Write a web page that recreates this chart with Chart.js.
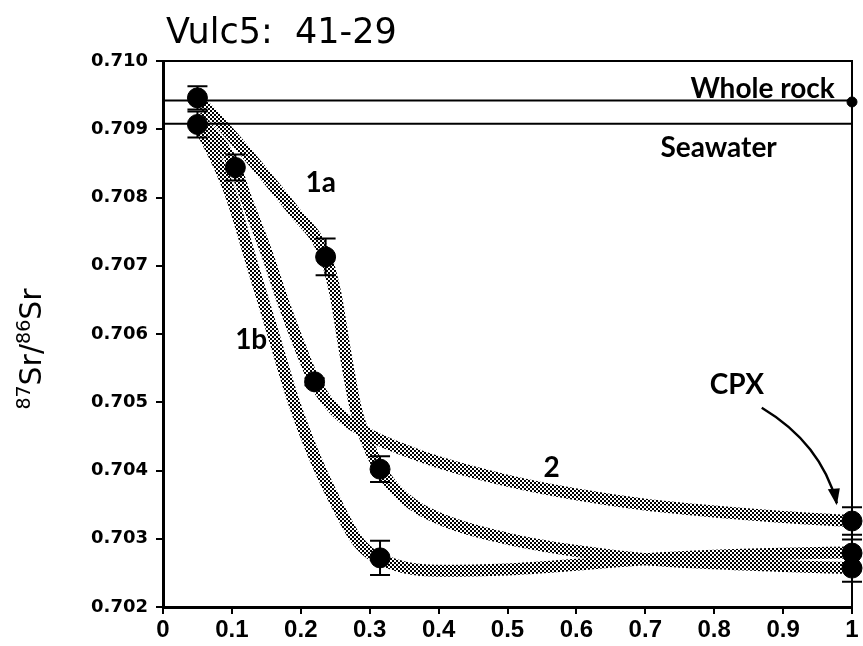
<!DOCTYPE html>
<html>
<head>
<meta charset="utf-8">
<script src="https://cdn.jsdelivr.net/npm/chart.js@4.4.0/dist/chart.umd.min.js"></script>
<style>
html, body { margin: 0; padding: 0; background: #fff; }
canvas { display: block; }
</style>
</head>
<body>
<canvas id="chart" width="863" height="646"></canvas>
<script>
// axis ticks
const xTicks = [0, 0.1, 0.2, 0.3, 0.4, 0.5, 0.6, 0.7, 0.8, 0.9, 1]
const xTickLabels = ['0', '0.1', '0.2', '0.3', '0.4', '0.5', '0.6', '0.7', '0.8', '0.9', '1']
const yTicks = [0.702, 0.703, 0.704, 0.705, 0.706, 0.707, 0.708, 0.709, 0.710]

// reference levels
const wholeRock = 0.70942
const seawater = 0.70908

// measured fractions (with 2 sigma errors)
const pointX = [0.05, 0.05, 0.105, 0.236, 0.22, 0.315, 0.315, 1, 1, 1]
const pointY = [0.70946, 0.70907, 0.70844, 0.70713, 0.70530, 0.70402, 0.70272, 0.70326, 0.70279, 0.70257]
const pointErr = [0.00017, 0.00019, 0.00019, 0.00027, 0.00005, 0.00019, 0.00025, 0.00020, 0.00020, 0.00020]

// whole rock sample on the right axis
const rockX = [1]
const rockY = [0.70940]

// model curves
const curve1aX = [0.05, 0.10, 0.15, 0.19, 0.236, 0.25, 0.265, 0.28, 0.295, 0.315, 0.35, 0.40, 0.50, 0.60, 0.70, 0.80, 0.90, 1.0]
const curve1aY = [0.70945, 0.70890, 0.70830, 0.70780, 0.70713, 0.70660, 0.70570, 0.70490, 0.70445, 0.70402, 0.70360, 0.70330, 0.70300, 0.70282, 0.70270, 0.70264, 0.70260, 0.70257]

const curve1bX = [0.05, 0.08, 0.10, 0.13, 0.16, 0.19, 0.22, 0.25, 0.28, 0.30, 0.32, 0.35, 0.40, 0.50, 0.60, 0.70, 0.80, 0.90, 1.0]
const curve1bY = [0.70910, 0.70850, 0.70800, 0.70700, 0.70600, 0.70500, 0.70420, 0.70355, 0.70300, 0.70279, 0.70268, 0.70258, 0.70253, 0.70255, 0.70262, 0.70270, 0.70275, 0.70278, 0.70280]

const curve2X = [0.05, 0.105, 0.12, 0.15, 0.175, 0.20, 0.22, 0.25, 0.30, 0.35, 0.40, 0.50, 0.60, 0.70, 0.80, 0.90, 1.0]
const curve2Y = [0.70920, 0.70843, 0.70800, 0.70720, 0.70645, 0.70578, 0.70530, 0.70488, 0.70452, 0.70430, 0.70412, 0.70385, 0.70365, 0.70350, 0.70340, 0.70332, 0.70326]

const toXY = (xs, ys) => xs.map((v, i) => ({ x: v, y: ys[i] }))

const canvas = document.getElementById('chart')
const ctx0 = canvas.getContext('2d')

// halftone look of the bands
const pat = document.createElement('canvas')
pat.width = 4
pat.height = 4
const pc = pat.getContext('2d')
pc.fillStyle = '#000'
pc.fillRect(0, 0, 2, 2)
pc.fillRect(2, 2, 2, 2)
const stipple = ctx0.createPattern(pat, 'repeat')

const band = (xs, ys) => ({
    data: toXY(xs, ys),
    showLine: true,
    borderColor: stipple,
    borderWidth: 12,
    pointRadius: 0,
    cubicInterpolationMode: 'monotone',
    clip: false
})

const refLine = level => ({
    data: [{ x: 0, y: level }, { x: 1, y: level }],
    showLine: true,
    borderColor: '#000',
    borderWidth: 2,
    pointRadius: 0
})

// error bars drawn just under the points
const errorBars = {
    id: 'errorBars',
    beforeDatasetDraw(chart, args) {
        if (args.index !== 0) return
        const { ctx, scales: { x, y } } = chart
        ctx.save()
        ctx.strokeStyle = '#000'
        ctx.lineWidth = 2
        pointX.forEach((v, i) => {
            const px = x.getPixelForValue(v)
            const top = y.getPixelForValue(pointY[i] + pointErr[i])
            const bot = y.getPixelForValue(pointY[i] - pointErr[i])
            ctx.beginPath()
            ctx.moveTo(px, top)
            ctx.lineTo(px, bot)
            ctx.moveTo(px - 10, top)
            ctx.lineTo(px + 10, top)
            ctx.moveTo(px - 10, bot)
            ctx.lineTo(px + 10, bot)
            ctx.stroke()
        })
        ctx.restore()
    }
}

// text, frame and arrow
const decorations = {
    id: 'decorations',
    afterDraw(chart) {
        const { ctx, chartArea: a, scales: { x, y } } = chart
        ctx.save()
        ctx.strokeStyle = '#000'
        ctx.lineWidth = 2
        ctx.beginPath()
        ctx.moveTo(a.left, a.top)
        ctx.lineTo(a.right, a.top)
        ctx.lineTo(a.right, a.bottom)
        ctx.stroke()

        ctx.fillStyle = '#000'
        ctx.textBaseline = 'alphabetic'
        ctx.textAlign = 'left'
        ctx.font = '35px "DejaVu Sans", sans-serif'
        ctx.fillText('Vulc5:  41-29', 166, 43)

        ctx.font = 'bold 28px Lato, "DejaVu Sans", sans-serif'
        ctx.textAlign = 'right'
        ctx.fillText('Whole rock', x.getPixelForValue(0.975), y.getPixelForValue(wholeRock) - 3)
        ctx.textAlign = 'left'
        ctx.textBaseline = 'middle'
        ctx.fillText('Seawater', x.getPixelForValue(0.722), y.getPixelForValue(0.70873))

        ctx.textAlign = 'center'
        ctx.fillText('1a', x.getPixelForValue(0.229), y.getPixelForValue(0.70821))
        ctx.fillText('1b', x.getPixelForValue(0.128), y.getPixelForValue(0.70591))
        ctx.fillText('2', x.getPixelForValue(0.564), y.getPixelForValue(0.70404))
        ctx.fillText('CPX', x.getPixelForValue(0.833), y.getPixelForValue(0.70526))

        // arrow to the cpx analyses
        const sx = x.getPixelForValue(0.869), sy = y.getPixelForValue(0.70492)
        const ex = x.getPixelForValue(0.978), ey = y.getPixelForValue(0.70352)
        const cx = x.getPixelForValue(0.955), cy = y.getPixelForValue(0.70440)
        ctx.lineWidth = 2.5
        ctx.beginPath()
        ctx.moveTo(sx, sy)
        ctx.quadraticCurveTo(cx, cy, ex, ey)
        ctx.stroke()
        ctx.beginPath()
        ctx.moveTo(ex, ey + 2)
        ctx.lineTo(ex - 9, ey - 14)
        ctx.lineTo(ex + 3, ey - 15)
        ctx.closePath()
        ctx.fill()

        // y axis title with superscripts
        ctx.translate(30, 349)
        ctx.rotate(-Math.PI / 2)
        ctx.textAlign = 'left'
        ctx.textBaseline = 'alphabetic'
        const parts = [['87', true], ['Sr/', false], ['86', true], ['Sr', false]]
        const big = '30px "DejaVu Sans", sans-serif'
        const small = '19px "DejaVu Sans", sans-serif'
        let w = 0
        parts.forEach(([t, sup]) => { ctx.font = sup ? small : big; w += ctx.measureText(t).width })
        let px = -w / 2
        parts.forEach(([t, sup]) => {
            ctx.font = sup ? small : big
            ctx.fillText(t, px, sup ? 0 : 11)
            px += ctx.measureText(t).width
        })
        ctx.restore()
    }
}

new Chart(canvas, {
    type: 'scatter',
    data: {
        datasets: [
            {
                data: toXY(pointX, pointY),
                backgroundColor: '#000',
                borderColor: '#000',
                pointRadius: 10,
                clip: false
            },
            {
                data: toXY(rockX, rockY),
                backgroundColor: '#000',
                borderColor: '#000',
                pointRadius: 5,
                clip: false
            },
            refLine(wholeRock),
            refLine(seawater),
            band(curve2X, curve2Y),
            band(curve1aX, curve1aY),
            band(curve1bX, curve1bY)
        ]
    },
    options: {
        responsive: false,
        animation: false,
        devicePixelRatio: 1,
        layout: { padding: { top: 61, right: 4, left: 0, bottom: 0 } },
        plugins: {
            legend: { display: false },
            tooltip: { enabled: false }
        },
        scales: {
            x: {
                type: 'linear',
                min: 0,
                max: 1,
                afterBuildTicks: s => { s.ticks = xTicks.map(v => ({ value: v })) },
                afterFit: s => { s.height = 39; s.paddingLeft = 0; s.paddingRight = 0 },
                ticks: {
                    color: '#000',
                    padding: 2,
                    maxRotation: 0,
                    font: { family: '"Liberation Sans Narrow", "Liberation Sans", sans-serif', size: 24, weight: 'bold' },
                    callback: (v, i) => xTickLabels[i]
                },
                grid: { drawOnChartArea: false, drawTicks: true, tickLength: 7, color: '#000', lineWidth: 2 },
                border: { display: true, color: '#000', width: 3 }
            },
            y: {
                type: 'linear',
                min: 0.702,
                max: 0.710,
                afterBuildTicks: s => { s.ticks = yTicks.map(v => ({ value: v })) },
                afterFit: s => { s.width = 163; s.paddingTop = 0; s.paddingBottom = 0 },
                ticks: {
                    color: '#000',
                    padding: 8,
                    font: { family: '"DejaVu Sans", sans-serif', size: 18, weight: 'bold' },
                    callback: v => v.toFixed(3)
                },
                grid: { drawOnChartArea: false, drawTicks: true, tickLength: 7, color: '#000', lineWidth: 2 },
                border: { display: true, color: '#000', width: 3 }
            }
        }
    },
    plugins: [errorBars, decorations]
})
</script>
</body>
</html>
